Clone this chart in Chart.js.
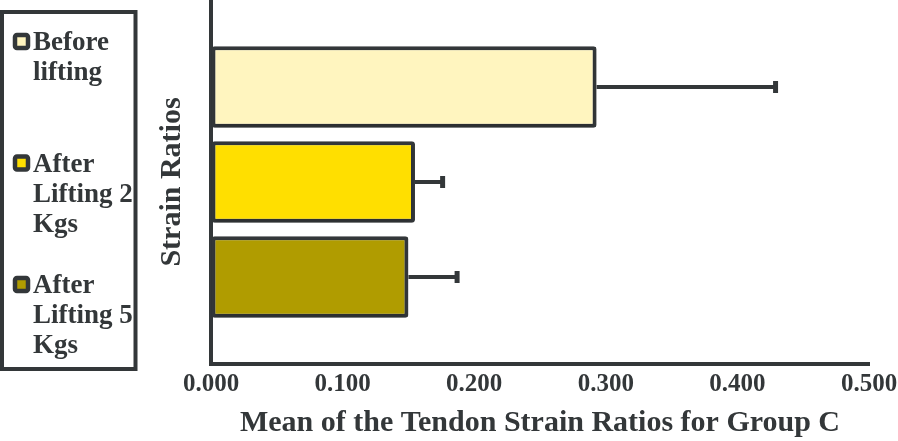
<!DOCTYPE html>
<html>
<head>
<meta charset="utf-8">
<script src="https://cdn.jsdelivr.net/npm/chart.js@4.4.1/dist/chart.umd.min.js"></script>
<style>
  body { margin: 0; background: #fff; }
  canvas { display: block; }
</style>
</head>
<body>
<canvas id="strainChart" width="898" height="441"></canvas>
<script>
    // data
    const categories = [''];
    const seriesNames = ['Before lifting', 'After Lifting 2 Kgs', 'After Lifting 5 Kgs'];
    const meanRatios = [0.293, 0.155, 0.150];
    const errorRatios = [0.136, 0.021, 0.037];
    const xTickValues = [0, 0.1, 0.2, 0.3, 0.4, 0.5];
    const xTitle = 'Mean of the Tendon Strain Ratios for Group C';
    const yTitle = 'Strain Ratios';

    const barColors = ['#fff5bf', '#ffdf00', '#b09c00'];
    const ink = '#333739';
    const serif = "'Liberation Serif', 'Times New Roman', serif";

    // light drop shadow under the bars
    const barShadow = {
        id: 'barShadow',
        beforeDatasetsDraw(chart) {
            const ctx = chart.ctx;
            ctx.save();
            ctx.shadowColor = 'rgba(0,0,0,0.18)';
            ctx.shadowBlur = 4;
            ctx.shadowOffsetY = 3;
        },
        afterDatasetsDraw(chart) {
            chart.ctx.restore();
        }
    };

    // + error bars, drawn from bar end to mean + error
    const errorBars = {
        id: 'errorBars',
        afterDatasetsDraw(chart) {
            const ctx = chart.ctx;
            const xScale = chart.scales.x;
            ctx.save();
            ctx.strokeStyle = ink;
            chart.data.datasets.forEach((ds, i) => {
                const meta = chart.getDatasetMeta(i);
                meta.data.forEach((bar, j) => {
                    const x1 = xScale.getPixelForValue(ds.data[j] + ds.errors[j]);
                    ctx.lineWidth = 4;
                    ctx.beginPath();
                    ctx.moveTo(bar.x, bar.y);
                    ctx.lineTo(x1, bar.y);
                    ctx.stroke();
                    ctx.lineWidth = 5;
                    ctx.beginPath();
                    ctx.moveTo(x1, bar.y - 6);
                    ctx.lineTo(x1, bar.y + 6);
                    ctx.stroke();
                });
            });
            ctx.restore();
        }
    };

    function wrapText(ctx, text, maxWidth) {
        const words = text.split(' ');
        const lines = [];
        let line = '';
        words.forEach(w => {
            const test = line ? line + ' ' + w : w;
            if (line && ctx.measureText(test).width > maxWidth) {
                lines.push(line);
                line = w;
            } else {
                line = test;
            }
        });
        if (line) lines.push(line);
        return lines;
    }

    // boxed legend on the left, like the original
    const sideLegend = {
        id: 'sideLegend',
        afterDraw(chart) {
            const ctx = chart.ctx;
            ctx.save();
            ctx.lineWidth = 4;
            ctx.strokeStyle = ink;
            ctx.strokeRect(2, 12, 133.5, 357);
            ctx.font = 'bold 27px ' + serif;
            ctx.textBaseline = 'alphabetic';
            chart.data.datasets.forEach((ds, i) => {
                const base = 50 + i * 121.5;
                ctx.beginPath();
                ctx.roundRect(15, base - 15, 13, 13, 2);
                ctx.fillStyle = ds.backgroundColor;
                ctx.fill();
                ctx.lineWidth = 4.5;
                ctx.stroke();
                ctx.fillStyle = ink;
                wrapText(ctx, ds.label, 104).forEach((ln, k) => {
                    ctx.fillText(ln, 33, base + k * 30);
                });
            });
            ctx.restore();
        }
    };

    const ctx = document.getElementById('strainChart').getContext('2d');
    new Chart(ctx, {
        type: 'bar',
        data: {
            labels: categories,
            datasets: seriesNames.map((name, i) => ({
                label: name,
                data: [meanRatios[i]],
                errors: [errorRatios[i]],
                backgroundColor: barColors[i],
                borderColor: ink,
                borderWidth: 4,
                borderRadius: 3,
                borderSkipped: false,
                categoryPercentage: 0.783,
                barPercentage: 0.857
            }))
        },
        options: {
            indexAxis: 'y',
            responsive: false,
            animation: false,
            devicePixelRatio: 1,
            layout: { padding: { left: 150, right: 29, top: 0, bottom: 0 } },
            scales: {
                x: {
                    type: 'linear',
                    min: 0,
                    max: 0.5,
                    afterBuildTicks: (scale) => { scale.ticks = xTickValues.map(v => ({ value: v })); },
                    ticks: {
                        callback: (v) => Number(v).toFixed(3),
                        font: { family: serif, size: 25, weight: 'bold' },
                        color: ink,
                        padding: 0,
                        maxRotation: 0,
                        autoSkip: false
                    },
                    grid: {
                        display: true,
                        drawOnChartArea: false,
                        drawTicks: true,
                        tickLength: 6,
                        tickColor: 'rgba(0,0,0,0)'
                    },
                    border: { display: true, color: ink, width: 4 },
                    title: {
                        display: true,
                        text: xTitle,
                        font: { family: serif, size: 30, weight: 'bold', lineHeight: 1.0 },
                        color: ink,
                        padding: { top: 8, bottom: 3 }
                    }
                },
                y: {
                    ticks: { display: false },
                    grid: { display: false, drawTicks: false },
                    border: { display: true, color: ink, width: 4 },
                    title: {
                        display: true,
                        text: yTitle,
                        font: { family: serif, size: 30, weight: 'bold' },
                        color: ink,
                        padding: { top: 4, bottom: 21 }
                    }
                }
            },
            plugins: {
                legend: { display: false },
                tooltip: { enabled: false }
            }
        },
        plugins: [barShadow, errorBars, sideLegend]
    });
</script>
</body>
</html>
